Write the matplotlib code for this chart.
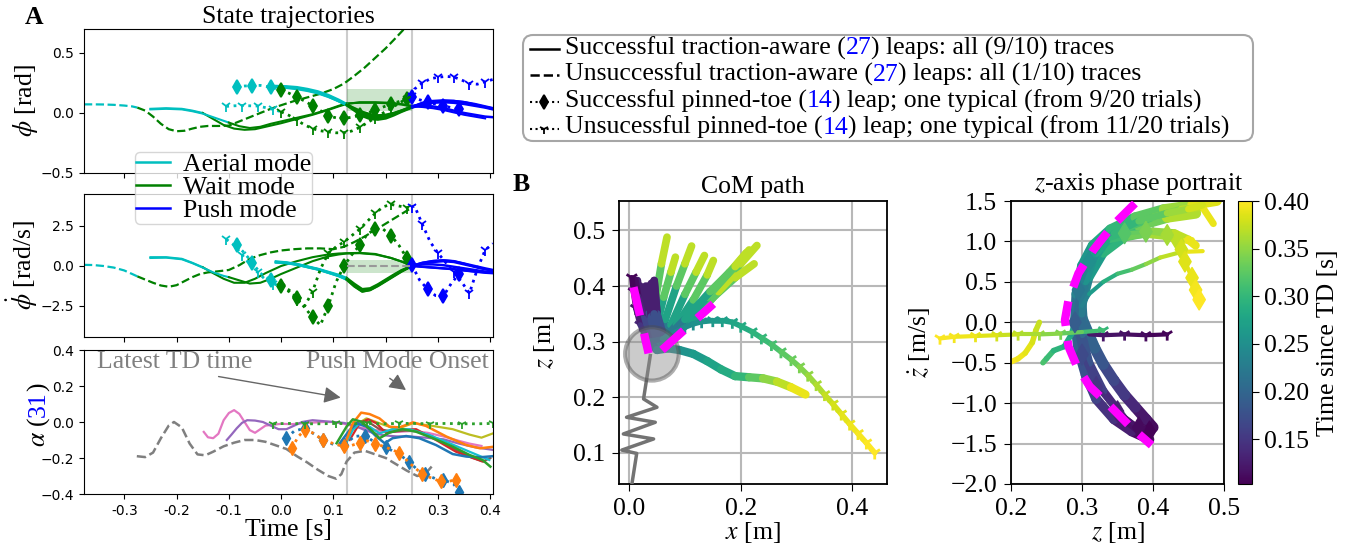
import numpy as np
import matplotlib
matplotlib.use('Agg')
import matplotlib.pyplot as plt
from matplotlib.lines import Line2D
from matplotlib.collections import LineCollection
from matplotlib.patches import Circle
from matplotlib.colors import Normalize
from matplotlib.cm import ScalarMappable
from matplotlib.offsetbox import TextArea, HPacker, VPacker, DrawingArea, AnchoredOffsetbox

plt.rcParams['font.family'] = 'serif'
plt.rcParams['font.serif'] = ['Liberation Serif', 'DejaVu Serif']
plt.rcParams['mathtext.fontset'] = 'stix'
FS = 18.5

# ---------------- panel A data: phi / phi_dot ----------------
# unsuccessful traction-aware leap (aerial part, then wait part)
ua_aer_t = [-0.377, -0.36, -0.34, -0.32, -0.3, -0.285, -0.275]
ua_aer_phi = [0.072, 0.072, 0.071, 0.068, 0.062, 0.055, 0.045]
ua_aer_dphi = [0.07, 0.06, 0.0, -0.1, -0.28, -0.5, -0.65]
ua_wait_t = [-0.275, -0.26, -0.245, -0.23, -0.215, -0.2, -0.185, -0.17, -0.155, -0.14, -0.12, -0.1,
             -0.08, -0.06, -0.04, -0.02, 0.0, 0.025, 0.05, 0.075, 0.1, 0.12, 0.14, 0.16, 0.18, 0.2,
             0.22, 0.235, 0.25]
ua_wait_phi = [0.045, 0.02, -0.03, -0.09, -0.135, -0.152, -0.148, -0.13, -0.115, -0.108, -0.108, -0.105,
               -0.07, -0.035, 0.0, 0.035, 0.065, 0.1, 0.13, 0.16, 0.2, 0.245, 0.31, 0.38, 0.46, 0.54,
               0.63, 0.7, 0.77]
ua_wait_dphi = [-0.65, -0.85, -1.05, -1.22, -1.3, -1.2, -0.95, -0.7, -0.5, -0.4, -0.33, -0.25,
                0.05, 0.45, 0.68, 0.85, 0.97, 1.05, 1.1, 1.1, 1.05, 1.2, 1.5, 1.85, 2.25, 2.65,
                3.05, 3.35, 3.65]

# successful traction-aware leaps, early touchdown
s1_td = -0.15
s1_t = [-0.25, -0.22, -0.19, -0.17, -0.15, -0.13, -0.11, -0.09, -0.07, -0.05, -0.03, 0.0, 0.03, 0.06,
        0.09, 0.11, 0.125, 0.15, 0.18, 0.21, 0.23, 0.25, 0.27, 0.29, 0.31, 0.33, 0.35, 0.37, 0.39, 0.405]
s1_phi = [0.035, 0.04, 0.035, 0.02, 0.0, -0.05, -0.1, -0.13, -0.14, -0.135, -0.115, -0.085, -0.05, -0.015,
          0.025, 0.055, 0.075, 0.09, 0.09, 0.085, 0.075, 0.06, 0.075, 0.09, 0.095, 0.09, 0.08, 0.065, 0.05, 0.04]
s1_dphi = [0.55, 0.55, 0.45, 0.2, -0.08, -0.45, -0.8, -1.05, -1.05, -0.8, -0.45, 0.0, 0.3, 0.55,
           0.72, 0.78, 0.8, 0.82, 0.75, 0.5, 0.28, 0.02, 0.2, 0.32, 0.36, 0.3, 0.15, -0.05, -0.2, -0.3]
s2_td = -0.1
s2_t = [-0.25, -0.22, -0.19, -0.17, -0.15, -0.13, -0.11, -0.1, -0.08, -0.06, -0.04, -0.02, 0.0, 0.03,
        0.06, 0.09, 0.11, 0.125, 0.15, 0.18, 0.21, 0.23, 0.25, 0.27, 0.29, 0.31, 0.33, 0.35, 0.37, 0.39]
s2_phi = [0.03, 0.035, 0.03, 0.015, -0.005, -0.035, -0.065, -0.08, -0.11, -0.125, -0.115, -0.09, -0.07, -0.04,
          -0.01, 0.03, 0.06, 0.08, 0.085, 0.085, 0.08, 0.07, 0.055, 0.05, 0.04, 0.025, 0.005, -0.015, -0.03, -0.045]
s2_dphi = [0.5, 0.52, 0.42, 0.18, -0.1, -0.4, -0.62, -0.7, -0.9, -1.1, -1.05, -0.8, -0.5, -0.1,
           0.3, 0.6, 0.72, 0.78, 0.8, 0.72, 0.5, 0.28, 0.02, -0.05, -0.1, -0.15, -0.2, -0.28, -0.35, -0.4]

# successful traction-aware leaps, late touchdown
late_td = 0.125
late_t = [-0.01, 0.01, 0.03, 0.05, 0.07, 0.09, 0.11, 0.125, 0.14, 0.155, 0.17, 0.185, 0.2, 0.215, 0.23,
          0.25, 0.27, 0.29, 0.31, 0.33, 0.35, 0.37, 0.39, 0.405]
late_phi = [
    [0.225, 0.222, 0.215, 0.2, 0.18, 0.15, 0.11, 0.075, 0.03, -0.01, -0.035, -0.04, -0.03, -0.01, 0.015,
     0.05, 0.08, 0.095, 0.1, 0.1, 0.09, 0.075, 0.055, 0.04],
    [0.22, 0.216, 0.208, 0.193, 0.172, 0.142, 0.1, 0.065, 0.02, -0.025, -0.05, -0.055, -0.045, -0.02, 0.01,
     0.045, 0.07, 0.085, 0.09, 0.085, 0.075, 0.06, 0.045, 0.03],
    [0.218, 0.213, 0.205, 0.19, 0.168, 0.138, 0.098, 0.07, 0.04, 0.01, -0.01, -0.02, -0.015, 0.0, 0.02,
     0.05, 0.085, 0.1, 0.105, 0.1, 0.09, 0.07, 0.05, 0.035],
    [0.215, 0.21, 0.2, 0.185, 0.165, 0.135, 0.1, 0.07, 0.035, 0.0, -0.025, -0.035, -0.025, -0.005, 0.02,
     0.055, 0.06, 0.055, 0.04, 0.02, 0.0, -0.015, -0.03, -0.035],
]
late_dphi = [
    [0.25, 0.2, 0.1, -0.05, -0.2, -0.4, -0.6, -0.8, -1.2, -1.55, -1.45, -1.2, -0.9, -0.6, -0.3,
     0.0, 0.2, 0.3, 0.35, 0.3, 0.15, 0.0, -0.15, -0.25],
    [0.22, 0.18, 0.08, -0.07, -0.22, -0.42, -0.63, -0.85, -1.28, -1.6, -1.5, -1.25, -0.95, -0.65, -0.35,
     0.0, 0.15, 0.25, 0.3, 0.25, 0.1, -0.05, -0.2, -0.3],
    [0.28, 0.22, 0.12, -0.03, -0.18, -0.37, -0.56, -0.75, -1.12, -1.45, -1.4, -1.15, -0.85, -0.55, -0.27,
     0.0, 0.1, 0.1, 0.05, -0.05, -0.15, -0.25, -0.35, -0.4],
    [0.24, 0.19, 0.09, -0.06, -0.21, -0.41, -0.62, -0.82, -1.25, -1.58, -1.5, -1.22, -0.92, -0.62, -0.32,
     0.0, -0.05, -0.1, -0.15, -0.2, -0.28, -0.35, -0.42, -0.45],
]

# pinned-toe leaps (successful: diamonds, unsuccessful: tri markers)
pt_td = 0.0
ps_t = [-0.085, -0.07, -0.055, -0.04, -0.02, 0.0, 0.015, 0.03, 0.045, 0.06, 0.075, 0.09, 0.105, 0.12,
        0.135, 0.15, 0.165, 0.18, 0.195, 0.21, 0.225, 0.24, 0.25, 0.265, 0.28, 0.295, 0.31, 0.325, 0.34]
ps_phi = [0.215, 0.225, 0.228, 0.23, 0.215, 0.19, 0.165, 0.13, 0.1, 0.06, 0.02, -0.025, -0.04, -0.045,
          -0.035, -0.02, 0.0, 0.025, 0.05, 0.075, 0.095, 0.115, 0.13, 0.11, 0.09, 0.075, 0.06, 0.045, 0.035]
ps_dphi = [1.3, 0.8, 0.2, -0.45, -0.9, -1.25, -1.5, -2.0, -2.6, -3.2, -3.7, -2.5, -1.0, 0.0,
           0.7, 1.3, 2.0, 2.3, 2.3, 1.9, 1.3, 0.5, 0.05, -0.9, -1.45, -1.85, -1.9, -1.1, -0.5]
pu_t = [-0.105, -0.09, -0.075, -0.06, -0.045, -0.03, -0.015, 0.0, 0.015, 0.03, 0.045, 0.06, 0.075, 0.09,
        0.105, 0.12, 0.135, 0.15, 0.165, 0.18, 0.195, 0.21, 0.225, 0.24, 0.25, 0.255, 0.27, 0.285, 0.3,
        0.315, 0.33, 0.345, 0.36, 0.375, 0.39, 0.405]
pu_phi = [0.055, 0.06, 0.062, 0.06, 0.058, 0.045, 0.03, 0.01, -0.02, -0.06, -0.1, -0.13, -0.148, -0.158,
          -0.165, -0.165, -0.15, -0.12, -0.08, -0.04, 0.0, 0.04, 0.08, 0.12, 0.14, 0.2, 0.25, 0.285, 0.298,
          0.305, 0.3, 0.275, 0.245, 0.24, 0.26, 0.28]
pu_dphi = [1.67, 1.3, 0.7, 0.1, -0.4, -0.85, -1.1, -1.3, -1.6, -2.1, -2.5, -1.6, -0.2, 0.8,
           1.2, 1.5, 1.9, 2.3, 2.8, 3.3, 3.7, 3.85, 3.75, 3.65, 3.7, 3.75, 2.6, 1.5, 0.8,
           0.2, -0.4, -1.0, -1.7, -0.2, 1.0, 1.4]

# ---------------- panel A data: alpha ----------------
al_gray_t = [-0.276, -0.26, -0.245, -0.23, -0.215, -0.205, -0.19, -0.175, -0.16, -0.145, -0.13, -0.11, -0.09,
             -0.07, -0.05, -0.03, -0.01, 0.01, 0.03, 0.05, 0.07, 0.09, 0.105, 0.115, 0.125, 0.14, 0.16,
             0.18, 0.2, 0.22, 0.24, 0.26, 0.275, 0.29]
al_gray = [-0.19, -0.195, -0.17, -0.09, -0.02, 0.0, -0.03, -0.12, -0.18, -0.185, -0.165, -0.135, -0.115,
           -0.1, -0.1, -0.11, -0.13, -0.15, -0.19, -0.225, -0.265, -0.3, -0.315, -0.29, -0.22, -0.17, -0.16,
           -0.18, -0.2, -0.235, -0.27, -0.3, -0.29, -0.24]
al_pink_t = [-0.148, -0.14, -0.13, -0.12, -0.11, -0.1, -0.09, -0.08, -0.07, -0.06, -0.05, -0.04, -0.03, -0.015,
             0.0, 0.02, 0.05, 0.08, 0.1, 0.12, 0.14, 0.16, 0.18, 0.2, 0.22, 0.25, 0.28, 0.31, 0.34, 0.36, 0.383]
al_pink = [-0.055, -0.085, -0.09, -0.065, 0.01, 0.05, 0.066, 0.045, 0.0, -0.045, -0.06, -0.04, -0.02, -0.015,
           -0.01, -0.012, -0.005, 0.0, 0.0, -0.01, -0.025, -0.035, -0.045, -0.054, -0.055, -0.05, -0.06, -0.08,
           -0.105, -0.12, -0.133]
al_purple_t = [-0.104, -0.095, -0.085, -0.075, -0.065, -0.05, -0.035, -0.02, -0.005, 0.01, 0.025, 0.04, 0.06,
               0.08, 0.1, 0.12, 0.14, 0.16, 0.18, 0.2, 0.22, 0.25, 0.28, 0.31, 0.34, 0.37, 0.405]
al_purple = [-0.1, -0.07, -0.035, -0.005, 0.01, 0.008, 0.0, -0.02, -0.04, -0.04, -0.02, 0.0, 0.01,
             0.005, 0.0, -0.005, -0.02, -0.045, -0.065, -0.075, -0.08, -0.081, -0.088, -0.096, -0.12, -0.14, -0.155]
al_orange_t = [0.125, 0.137, 0.153, 0.169, 0.188, 0.207, 0.226, 0.252, 0.277, 0.316, 0.354, 0.38, 0.408]
al_orange = [-0.1, -0.007, 0.052, 0.044, 0.02, -0.026, -0.03, -0.002, -0.022, -0.081, -0.128, -0.146, -0.137]
al_olive_t = [0.137, 0.163, 0.188, 0.22, 0.252, 0.29, 0.328, 0.36, 0.383, 0.408]
al_olive = [-0.026, 0.02, -0.007, -0.04, -0.007, -0.022, -0.04, -0.07, -0.087, -0.06]
al_green_t = [0.106, 0.125, 0.137, 0.153, 0.172, 0.188, 0.207, 0.232, 0.258, 0.29, 0.328, 0.36, 0.385, 0.4]
al_green = [-0.118, -0.026, 0.015, 0.002, -0.044, -0.09, -0.059, -0.04, -0.054, -0.09, -0.137, -0.183, -0.211, -0.248]
al_blue_t = [0.112, 0.131, 0.144, 0.163, 0.182, 0.198, 0.213, 0.239, 0.264, 0.296, 0.328, 0.354, 0.38, 0.408]
al_blue = [-0.118, -0.044, -0.007, -0.026, -0.081, -0.118, -0.09, -0.078, -0.09, -0.128, -0.178, -0.192, -0.196, -0.189]
al_red_t = [0.131, 0.15, 0.166, 0.182, 0.201, 0.226, 0.258, 0.296, 0.334, 0.366, 0.388]
al_red = [-0.1, -0.007, 0.015, -0.007, -0.063, -0.044, -0.04, -0.1, -0.165, -0.2, -0.22]
al_brown_t = [0.125, 0.144, 0.163, 0.188, 0.213, 0.252, 0.29, 0.328, 0.36, 0.385, 0.4]
al_brown = [-0.09, -0.004, 0.007, -0.04, -0.054, -0.044, -0.081, -0.146, -0.192, -0.22, -0.2]
al_cyan_t = [0.121, 0.137, 0.15, 0.169, 0.188, 0.213, 0.245, 0.283, 0.322, 0.36, 0.398]
al_cyan = [-0.137, -0.044, -0.007, -0.026, -0.063, -0.04, -0.04, -0.072, -0.118, -0.165, -0.211]
al_ps_blue_t = [0.01, 0.025, 0.045, 0.065, 0.08, 0.1, 0.12, 0.14, 0.16, 0.18, 0.2, 0.225, 0.245, 0.26,
                0.275, 0.295, 0.31, 0.33, 0.34]
al_ps_blue = [-0.09, -0.05, -0.035, -0.07, -0.1, -0.125, -0.13, -0.08, -0.075, -0.115, -0.14, -0.18, -0.22,
              -0.265, -0.29, -0.315, -0.32, -0.345, -0.39]
al_ps_orange_t = [0.02, 0.033, 0.045, 0.06, 0.08, 0.1, 0.12, 0.135, 0.15, 0.165, 0.18, 0.2, 0.225, 0.25,
                  0.27, 0.29, 0.305, 0.32, 0.335, 0.345]
al_ps_orange = [-0.146, -0.08, -0.045, -0.06, -0.1, -0.12, -0.135, -0.13, -0.115, -0.105, -0.12, -0.14, -0.17,
                -0.24, -0.29, -0.315, -0.33, -0.33, -0.32, -0.315]
al_pu_t = [-0.015, 0.015, 0.045, 0.075, 0.105, 0.135, 0.165, 0.195, 0.225, 0.255, 0.285, 0.315, 0.345,
           0.375, 0.405]
al_pu = [-0.01, -0.008, -0.01, -0.01, -0.008, -0.01, -0.008, -0.01, -0.008, -0.008, -0.01, -0.008, -0.01,
         -0.01, -0.008]

# ---------------- panel B data: CoM path (x, z, time since TD) ----------------
com_lines = [
    ([0.015, 0.02, 0.03, 0.038, 0.048, 0.058, 0.068], [0.41, 0.36, 0.3, 0.32, 0.38, 0.44, 0.488]),
    ([0.02, 0.025, 0.035, 0.05, 0.062, 0.075, 0.083], [0.40, 0.35, 0.295, 0.33, 0.38, 0.425, 0.452]),
    ([0.03, 0.035, 0.045, 0.065, 0.085, 0.1, 0.112], [0.40, 0.35, 0.29, 0.34, 0.4, 0.44, 0.472]),
    ([0.035, 0.04, 0.05, 0.075, 0.1, 0.12, 0.135], [0.40, 0.345, 0.29, 0.33, 0.385, 0.425, 0.455]),
    ([0.04, 0.045, 0.055, 0.085, 0.115, 0.14, 0.151], [0.405, 0.35, 0.295, 0.33, 0.375, 0.42, 0.446]),
    ([0.045, 0.05, 0.06, 0.1, 0.15, 0.2, 0.229], [0.41, 0.35, 0.30, 0.33, 0.38, 0.44, 0.473]),
    ([0.04, 0.045, 0.055, 0.095, 0.14, 0.19, 0.224], [0.40, 0.345, 0.295, 0.325, 0.37, 0.415, 0.44]),
    ([0.035, 0.04, 0.05, 0.085, 0.125, 0.16, 0.187], [0.395, 0.345, 0.29, 0.315, 0.35, 0.39, 0.419]),
    ([0.045, 0.05, 0.065, 0.1, 0.14, 0.18, 0.21], [0.41, 0.35, 0.30, 0.335, 0.38, 0.425, 0.46]),
    ([0.04, 0.045, 0.06, 0.1, 0.145, 0.19, 0.215], [0.40, 0.35, 0.30, 0.34, 0.39, 0.435, 0.465]),
]
com_line_time = [0.105, 0.15, 0.2, 0.25, 0.3, 0.35, 0.39]
com_pu_x = [0.005, 0.008, 0.012, 0.02, 0.035, 0.06, 0.072, 0.085, 0.1, 0.115, 0.13, 0.15, 0.167, 0.185,
            0.2, 0.22, 0.237, 0.255, 0.272, 0.29, 0.305, 0.32, 0.335, 0.35, 0.365, 0.38, 0.395, 0.41,
            0.425, 0.44]
com_pu_z = [0.415, 0.39, 0.36, 0.33, 0.3, 0.305, 0.311, 0.318, 0.326, 0.332, 0.336, 0.338, 0.338, 0.335,
            0.328, 0.318, 0.307, 0.295, 0.282, 0.268, 0.255, 0.24, 0.223, 0.205, 0.188, 0.17, 0.152, 0.135,
            0.118, 0.1]
com_pu_time = [0.105, 0.11, 0.12, 0.135, 0.16, 0.23, 0.235, 0.24, 0.245, 0.25, 0.255, 0.26, 0.268, 0.275,
               0.282, 0.29, 0.3, 0.31, 0.32, 0.33, 0.34, 0.35, 0.36, 0.37, 0.377, 0.385, 0.39, 0.395,
               0.398, 0.4]
com_ps_x = [0.01, 0.015, 0.025, 0.035, 0.05, 0.07, 0.09, 0.115, 0.14, 0.165, 0.19, 0.215, 0.24, 0.265, 0.29, 0.316]
com_ps_z = [0.41, 0.38, 0.34, 0.3, 0.285, 0.288, 0.285, 0.278, 0.265, 0.25, 0.238, 0.236, 0.234, 0.228, 0.218, 0.205]
com_ps_time = [0.105, 0.12, 0.15, 0.18, 0.22, 0.24, 0.25, 0.26, 0.27, 0.28, 0.29, 0.31, 0.34, 0.36, 0.38, 0.40]
leg_x = [0.0048, 0.0137, -0.013, 0.044, -0.0102, 0.047, -0.0045, 0.05, 0.026, 0.038]
leg_z = [0.042, 0.099, 0.105, 0.125, 0.134, 0.155, 0.164, 0.182, 0.197, 0.275]
hip_x, hip_z, hip_r = 0.041, 0.278, 0.048
mag1_x, mag1_z = [0.008, 0.035], [0.398, 0.279]
mag2_x, mag2_z = [0.059, 0.151], [0.285, 0.368]

# ---------------- panel B data: z phase portrait (z, z_dot, time since TD) ----------------
ph_lines = [
    ([0.395, 0.37, 0.345, 0.32, 0.305, 0.295, 0.29, 0.292, 0.3, 0.315, 0.34, 0.375, 0.415, 0.455, 0.49],
     [-1.45, -1.35, -1.2, -0.95, -0.65, -0.35, 0.0, 0.35, 0.7, 0.95, 1.15, 1.3, 1.4, 1.45, 1.5],
     [0.105, 0.12, 0.135, 0.155, 0.17, 0.185, 0.205, 0.225, 0.25, 0.27, 0.29, 0.31, 0.34, 0.37, 0.40], 7),
    ([0.4, 0.39, 0.375, 0.36, 0.345, 0.33, 0.318, 0.308, 0.3, 0.298, 0.305, 0.32, 0.345, 0.38, 0.42, 0.46],
     [-1.3, -1.2, -1.05, -0.9, -0.72, -0.52, -0.32, -0.12, 0.05, 0.3, 0.6, 0.85, 1.05, 1.2, 1.3, 1.35],
     [0.105, 0.115, 0.13, 0.145, 0.16, 0.175, 0.19, 0.2, 0.21, 0.23, 0.25, 0.27, 0.29, 0.32, 0.35, 0.38], 8),
    ([0.39, 0.36, 0.33, 0.31, 0.3, 0.3, 0.31, 0.33, 0.36, 0.4, 0.43, 0.45, 0.46],
     [-1.4, -1.2, -0.85, -0.5, -0.15, 0.2, 0.55, 0.85, 1.05, 1.12, 1.1, 1.02, 0.95],
     [0.105, 0.125, 0.15, 0.17, 0.19, 0.22, 0.25, 0.28, 0.31, 0.34, 0.36, 0.38, 0.40], 6),
    ([0.3, 0.31, 0.33, 0.36, 0.4, 0.44, 0.47, 0.485],
     [0.3, 0.65, 0.95, 1.15, 1.3, 1.4, 1.42, 1.22],
     [0.23, 0.26, 0.28, 0.3, 0.33, 0.36, 0.38, 0.40], 5),
    ([0.3, 0.305, 0.32, 0.345, 0.38, 0.42, 0.45, 0.47],
     [0.1, 0.5, 0.85, 1.1, 1.25, 1.35, 1.4, 1.45],
     [0.21, 0.24, 0.27, 0.29, 0.31, 0.34, 0.37, 0.39], 5),
    ([0.33, 0.36, 0.39, 0.42, 0.44, 0.455],
     [1.0, 1.05, 1.08, 1.05, 1.0, 1.02],
     [0.29, 0.32, 0.35, 0.37, 0.385, 0.395], 4),
    ([0.3, 0.31, 0.33, 0.35, 0.37, 0.39, 0.41, 0.44, 0.47],
     [0.2, 0.35, 0.5, 0.6, 0.65, 0.72, 0.8, 0.87, 0.88],
     [0.22, 0.25, 0.28, 0.3, 0.32, 0.34, 0.36, 0.38, 0.40], 3),
    ([0.245, 0.25, 0.26, 0.275, 0.285, 0.29],
     [-0.5, -0.45, -0.35, -0.3, -0.15, 0.0],
     [0.32, 0.31, 0.3, 0.29, 0.28, 0.27], 4),
    ([0.2, 0.21, 0.22, 0.23, 0.235, 0.24],
     [-0.49, -0.45, -0.38, -0.25, -0.1, 0.0],
     [0.4, 0.395, 0.39, 0.385, 0.38, 0.37], 4),
]
ph_ps_z = [0.395, 0.38, 0.35, 0.32, 0.3, 0.29, 0.295, 0.31, 0.33, 0.36, 0.39, 0.42, 0.435, 0.44, 0.445,
           0.455, 0.46, 0.465]
ph_ps_zd = [-1.35, -1.3, -1.1, -0.8, -0.4, 0.0, 0.4, 0.75, 1.0, 1.1, 1.12, 1.08, 1.0, 0.9, 0.75, 0.55, 0.4, 0.28]
ph_ps_time = [0.105, 0.11, 0.13, 0.15, 0.17, 0.19, 0.22, 0.25, 0.28, 0.32, 0.34, 0.36, 0.37, 0.38, 0.385,
              0.39, 0.395, 0.40]
ph_pu_z = [0.42, 0.39, 0.36, 0.33, 0.31]
ph_pu_zd = [-0.15, -0.16, -0.15, -0.16, -0.15]
ph_pu_time = [0.105, 0.11, 0.115, 0.12, 0.125]
ph_pu2_z = [0.33, 0.3, 0.27, 0.24, 0.21, 0.18, 0.15, 0.12, 0.1]
ph_pu2_zd = [-0.1, -0.12, -0.14, -0.15, -0.15, -0.16, -0.17, -0.18, -0.2]
ph_pu2_time = [0.3, 0.32, 0.34, 0.355, 0.37, 0.38, 0.39, 0.395, 0.4]
arc_z = [0.3746, 0.344, 0.316, 0.295, 0.281, 0.276, 0.281, 0.293, 0.311, 0.34, 0.368, 0.398]
arc_zd = [1.47, 1.203, 0.894, 0.606, 0.276, 0.029, -0.30, -0.547, -0.794, -1.04, -1.29, -1.52]

cb_min, cb_max = 0.103, 0.40
cb_ticks = [0.15, 0.20, 0.25, 0.30, 0.35, 0.40]

# ---------------- layout ----------------
W, H = 1352, 545
fig = plt.figure(figsize=(W / 100, H / 100), dpi=100)


def fbox(l, t, r, b):
    return [l / W, 1 - b / H, (r - l) / W, (b - t) / H]


ax1 = fig.add_axes(fbox(84, 29, 493, 173))
ax2 = fig.add_axes(fbox(84, 194, 493, 337))
ax3 = fig.add_axes(fbox(84, 350, 493, 494))
axc = fig.add_axes(fbox(619, 201, 887, 484))
axp = fig.add_axes(fbox(1011, 201, 1224, 484))
cax = fig.add_axes(fbox(1238, 201, 1252, 484))


def mode_plot(ax, t, y, td, ls='-', marker=None, lw=1.5, ms=7):
    t = np.asarray(t)
    y = np.asarray(y)
    for lo, hi, col in ((-9, td, 'c'), (td, 0.25, 'g'), (0.25, 9, 'b')):
        m = (t >= lo - 1e-9) & (t <= hi + 1e-9)
        if m.sum() > 1:
            ax.plot(t[m], y[m], color=col, ls=ls, lw=lw, marker=marker,
                    markevery=2 if marker else None, ms=ms, mew=1.3)


for ax, key in ((ax1, 'phi'), (ax2, 'dphi')):
    ax.axvline(0.125, color='0.8', lw=1.5, zorder=0)
    ax.axvline(0.25, color='0.8', lw=1.5, zorder=0)
    d = {'phi': (ua_aer_phi, ua_wait_phi, s1_phi, s2_phi, late_phi, ps_phi, pu_phi),
         'dphi': (ua_aer_dphi, ua_wait_dphi, s1_dphi, s2_dphi, late_dphi, ps_dphi, pu_dphi)}[key]
    ax.plot(ua_aer_t, d[0], color='c', ls='--', lw=1.6)
    ax.plot(ua_wait_t, d[1], color='g', ls='--', lw=1.6)
    mode_plot(ax, s1_t, d[2], s1_td)
    mode_plot(ax, s2_t, d[3], s2_td)
    for tr in d[4]:
        mode_plot(ax, late_t, tr, late_td, lw=1.8)
    mode_plot(ax, ps_t, d[5], pt_td, ls=':', marker='d', lw=2, ms=7)
    mode_plot(ax, pu_t, d[6], pt_td, ls=':', marker='1', lw=2, ms=8)

ax1.fill_between([0.125, 0.25], 0.015, 0.2, color='g', alpha=0.2, lw=0)
ax2.fill_between([0.125, 0.25], -0.45, 0.4, color='g', alpha=0.2, lw=0)
ax2.plot([0.125, 0.25], [0, 0], color='0.6', ls='--', lw=1.5)

ax3.axvline(0.125, color='0.8', lw=1.5, zorder=0)
ax3.axvline(0.25, color='0.8', lw=1.5, zorder=0)
ax3.plot(al_gray_t, al_gray, color='tab:gray', ls='--', lw=1.8)
ax3.plot(al_pink_t, al_pink, color='tab:pink', lw=1.6)
ax3.plot(al_purple_t, al_purple, color='tab:purple', lw=1.6)
ax3.plot(al_olive_t, al_olive, color='tab:olive', lw=1.6)
ax3.plot(al_brown_t, al_brown, color='tab:brown', lw=1.6)
ax3.plot(al_red_t, al_red, color='tab:red', lw=1.6)
ax3.plot(al_cyan_t, al_cyan, color='tab:cyan', lw=1.6)
ax3.plot(al_blue_t, al_blue, color='tab:blue', lw=1.8)
ax3.plot(al_orange_t, al_orange, color='tab:orange', lw=1.8)
ax3.plot(al_green_t, al_green, color='tab:green', lw=1.8)
ax3.plot(al_ps_blue_t, al_ps_blue, color='tab:blue', ls=':', lw=2, marker='d', markevery=2, ms=7)
ax3.plot(al_ps_orange_t, al_ps_orange, color='tab:orange', ls=':', lw=2, marker='d', markevery=2, ms=7)
ax3.plot(al_pu_t, al_pu, color='tab:green', ls=':', lw=2, marker='1', markevery=2, ms=7, mew=1.3)

ax3.annotate('Latest TD time', xy=(0.119, 0.133), xytext=(-0.3515, 0.333), color='gray',
             fontsize=FS, ha='left', va='center',
             arrowprops=dict(arrowstyle='-|>', color='0.4', lw=1, mutation_scale=25,
                             relpos=(0.65, 0.0), shrinkA=3))
ax3.annotate('Push Mode Onset', xy=(0.243, 0.168), xytext=(0.047, 0.333), color='gray',
             fontsize=FS, ha='left', va='center',
             arrowprops=dict(arrowstyle='-|>', color='0.4', lw=1, mutation_scale=25,
                             relpos=(0.42, 0.0), shrinkA=3))

xt = [-0.3, -0.2, -0.1, 0.0, 0.1, 0.2, 0.3, 0.4]
for ax in (ax1, ax2, ax3):
    ax.set_xlim(-0.377, 0.405)
    ax.set_xticks(xt)
    ax.tick_params(labelfontfamily='DejaVu Sans', labelsize=10)
ax1.set_xticklabels([])
ax2.set_xticklabels([])
ax3.set_xticklabels(['%.1f' % v for v in xt])
ax1.set_ylim(-0.5, 0.7)
ax1.set_yticks([-0.5, 0.0, 0.5])
ax2.set_ylim(-4.44, 4.5)
ax2.set_yticks([-2.5, 0.0, 2.5])
ax3.set_ylim(-0.4, 0.4)
ax3.set_yticks([-0.4, -0.2, 0.0, 0.2, 0.4])
ax1.set_ylabel(r'$\phi$ [rad]', fontsize=FS)
ax2.set_ylabel(r'$\dot{\phi}$ [rad/s]', fontsize=FS)
ax1.yaxis.set_label_coords(-0.108, 0.5)
ax2.yaxis.set_label_coords(-0.108, 0.5)
ax3.set_xlabel('Time [s]', fontsize=FS, labelpad=1)
ax1.set_title('State trajectories', fontsize=FS, pad=4)

# ---------------- panel B ----------------
norm = Normalize(cb_min, cb_max)
cmap = plt.get_cmap('viridis')


def grad(ax, x, y, t, lw=4, clip=True):
    pts = np.column_stack([x, y])
    segs = np.stack([pts[:-1], pts[1:]], axis=1)
    tt = np.asarray(t)
    lc = LineCollection(segs, cmap=cmap, norm=norm, linewidths=lw, capstyle='round', joinstyle='round')
    lc.set_array((tt[:-1] + tt[1:]) / 2)
    lc.set_clip_on(clip)
    ax.add_collection(lc)


for x, z in com_lines:
    grad(axc, x, z, com_line_time, lw=5.5)
grad(axc, com_ps_x, com_ps_z, com_ps_time, lw=6)
grad(axc, com_pu_x, com_pu_z, com_pu_time, lw=4)
axc.scatter(com_pu_x, com_pu_z, c=com_pu_time, cmap=cmap, norm=norm, marker='1', s=90, lw=2)
axc.plot(leg_x, leg_z, color='0.45', lw=2.5, zorder=3)
axc.add_patch(Circle((hip_x, hip_z), hip_r, fc='0.55', ec='0.3', alpha=0.45, lw=3, zorder=4))
axc.plot(mag1_x, mag1_z, color='magenta', lw=6, ls=(0, (3.5, 2.2)), zorder=5)
axc.plot(mag2_x, mag2_z, color='magenta', lw=6, ls=(0, (3.5, 2.2)), zorder=5)
axc.set_xlim(-0.018, 0.462)
axc.set_ylim(0.044, 0.553)
axc.set_xticks([0.0, 0.2, 0.4])
axc.set_yticks([0.1, 0.2, 0.3, 0.4, 0.5])
axc.set_title('CoM path', fontsize=FS, pad=6)
axc.set_xlabel(r'$x$ [m]', fontsize=FS, labelpad=0)
axc.set_ylabel(r'$z$ [m]', fontsize=FS)
axc.yaxis.set_label_coords(-0.23, 0.5)

for z, zd, t, w in ph_lines:
    grad(axp, z, zd, t, lw=w)
grad(axp, ph_ps_z, ph_ps_zd, ph_ps_time, lw=3)
axp.scatter(ph_ps_z, ph_ps_zd, c=ph_ps_time, cmap=cmap, norm=norm, marker='d', s=110, zorder=3)
grad(axp, ph_pu_z, ph_pu_zd, ph_pu_time, lw=3)
axp.scatter(ph_pu_z, ph_pu_zd, c=ph_pu_time, cmap=cmap, norm=norm, marker='1', s=80, lw=2)
grad(axp, ph_pu2_z, ph_pu2_zd, ph_pu2_time, lw=3, clip=False)
axp.scatter(ph_pu2_z, ph_pu2_zd, c=ph_pu2_time, cmap=cmap, norm=norm, marker='1', s=80, lw=2,
            clip_on=False)
axp.plot(arc_z, arc_zd, color='magenta', lw=6, ls=(0, (3.0, 1.8)), zorder=5)
axp.set_xlim(0.2, 0.5)
axp.set_ylim(-2.0, 1.5)
axp.set_xticks([0.2, 0.3, 0.4, 0.5])
axp.set_yticks([-2.0, -1.5, -1.0, -0.5, 0.0, 0.5, 1.0, 1.5])
axp.set_xlabel(r'$z$ [m]', fontsize=FS, labelpad=0)
axp.set_ylabel(r'$\dot{z}$ [m/s]', fontsize=FS)
axp.yaxis.set_label_coords(-0.366, 0.5)

for ax in (axc, axp):
    ax.grid(True, color='0.72', lw=1.5)
    ax.set_axisbelow(True)
    ax.tick_params(labelsize=FS, length=5, pad=5)
    for s in ax.spines.values():
        s.set_linewidth(1.3)

cb = fig.colorbar(ScalarMappable(norm=norm, cmap=cmap), cax=cax)
cb.set_ticks(cb_ticks)
cb.set_ticklabels(['%.2f' % v for v in cb_ticks])
cb.ax.tick_params(labelsize=FS, length=5)
cb.set_label('Time since TD [s]', fontsize=FS)
cax.yaxis.set_label_coords(5.64, 0.5)

fig.text(1139 / W, 1 - 190 / H, r'$z$-axis phase portrait', fontsize=FS, ha='center', va='baseline')
fig.text(25 / W, 1 - 24 / H, 'A', fontsize=FS, weight='bold', va='baseline')
fig.text(513 / W, 1 - 191 / H, 'B', fontsize=FS, weight='bold', va='baseline')

# mode legend (over panels A top/middle)
fig.legend(handles=[Line2D([], [], color='c', lw=1.8, label='Aerial mode'),
                    Line2D([], [], color='g', lw=1.8, label='Wait mode'),
                    Line2D([], [], color='b', lw=1.8, label='Push mode')],
           loc='upper left', bbox_to_anchor=(135 / W, 1 - 152 / H), fontsize=FS,
           labelspacing=0.0, handlelength=1.3, handletextpad=0.5, borderpad=0.05,
           borderaxespad=0)


# trace-type legend with coloured equation numbers
def handle(ls, marker=None):
    da = DrawingArea(29, 10, 0, 0)
    if marker:
        da.add_artist(Line2D([4, 14.5, 25], [4, 4, 4], color='k', ls=ls, lw=1.5, marker=marker,
                             markevery=[1], ms=7, mew=1.3))
    else:
        da.add_artist(Line2D([4, 25], [4, 4], color='k', ls=ls, lw=1.8))
    return da


rows_spec = [
    (('-', None), 'Successful traction-aware (', '27', ') leaps: all (9/10) traces'),
    (('--', None), 'Unsuccessful traction-aware (', '27', ') leaps: all (1/10) traces'),
    ((':', 'd'), 'Successful pinned-toe (', '14', ') leap; one typical (from 9/20 trials)'),
    ((':', '1'), 'Unsucessful pinned-toe (', '14', ') leap; one typical (from 11/20 trials)'),
]
rows = []
for (ls, mk), a, num, b in rows_spec:
    parts = [handle(ls, mk),
             TextArea(a, textprops=dict(fontsize=FS, color='k')),
             TextArea(num, textprops=dict(fontsize=FS, color='blue')),
             TextArea(b, textprops=dict(fontsize=FS, color='k')),
             DrawingArea(16, 1, 0, 0)]
    rows.append(HPacker(children=parts, align='baseline', pad=0, sep=0))
vp = VPacker(children=rows, align='left', pad=0, sep=2.3)
box = AnchoredOffsetbox(loc='upper left', child=vp, pad=0.05, borderpad=0, frameon=True,
                        bbox_to_anchor=(523 / W, 1 - 35 / H), bbox_transform=fig.transFigure,
                        prop=dict(size=FS))
box.patch.set_boxstyle('round,pad=0,rounding_size=0.4')
box.patch.set_edgecolor('0.65')
box.patch.set_linewidth(1.5)
fig.add_artist(box)

# alpha (31) ylabel with blue equation number
fig.canvas.draw()
r = fig.canvas.get_renderer()
lab_parts = [(r'$\alpha$ (', 'k'), ('31', 'blue'), (')', 'k')]
widths = []
for s, c in lab_parts:
    tmp = fig.text(0, 0, s, fontsize=FS)
    widths.append(tmp.get_window_extent(r).width)
    tmp.remove()
y0 = (H - 415) - sum(widths) / 2
for (s, c), w in zip(lab_parts, widths):
    fig.text(45 / W, y0 / H, s, fontsize=FS, color=c, rotation=90, rotation_mode='anchor',
             ha='left', va='baseline')
    y0 += w

fig.savefig('out.png', dpi=100)
